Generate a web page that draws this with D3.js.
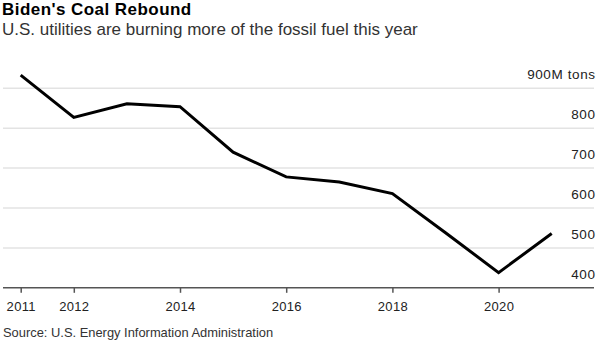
<!DOCTYPE html>
<html>
<head>
<meta charset="utf-8">
<script src="https://cdn.jsdelivr.net/npm/d3@7"></script>
<style>
  html, body { margin: 0; padding: 0; background: #fff; }
  svg { display: block; font-family: "Liberation Sans", Arial, sans-serif; }
</style>
</head>
<body>
<svg id="chart" width="600" height="342"></svg>
<script>
const years = [2011, 2012, 2013, 2014, 2015, 2016, 2017, 2018, 2019, 2020, 2021];
const coal = [933, 827, 861, 854, 740, 678, 665, 636, 538, 438, 536];
const xTicks = [2011, 2012, 2014, 2016, 2018, 2020];
const yTicks = [400, 500, 600, 700, 800, 900];
const yUnit = "M tons";
const title = "Biden's Coal Rebound";
const subtitle = "U.S. utilities are burning more of the fossil fuel this year";
const source = "Source: U.S. Energy Information Administration";

const svg = d3.select("#chart");
const left = 3, right = 594;
const x = d3.scaleLinear().domain([2011, 2021]).range([20.7, 551.7]);
const y = d3.scaleLinear().domain([400, 900]).range([287.8, 88.3]);

svg.append("text").attr("x", 2).attr("y", 15.3)
  .attr("font-size", 17).attr("font-weight", "bold").attr("fill", "#000")
  .attr("letter-spacing", 0.45)
  .text(title);
svg.append("text").attr("x", 2).attr("y", 34.5)
  .attr("font-size", 17).attr("fill", "#333")
  .text(subtitle);

// gridlines
const grid = svg.append("g");
grid.selectAll("line").data(yTicks.filter(d => d !== 400)).join("line")
  .attr("x1", left).attr("x2", right)
  .attr("y1", d => y(d)).attr("y2", d => y(d))
  .attr("stroke", "#e3e3e3").attr("stroke-width", 1.5);

// y labels
svg.append("g").selectAll("text").data(yTicks).join("text")
  .attr("x", 595.6).attr("y", d => y(d) - 9)
  .attr("text-anchor", "end").attr("font-size", 13.5).attr("fill", "#222")
  .attr("letter-spacing", 0.6)
  .text(d => d === 900 ? d + yUnit : d);

// x axis
const xAxis = d3.axisBottom(x).tickValues(xTicks).tickFormat(d3.format("d"))
  .tickSize(5).tickPadding(8.6);
const gx = svg.append("g").attr("transform", `translate(0,${y(400)})`).call(xAxis);
gx.select(".domain").remove();
gx.insert("line", ":first-child").attr("x1", left).attr("x2", right)
  .attr("stroke", "#555").attr("stroke-width", 1.6);
gx.selectAll(".tick line").attr("stroke", "#555").attr("stroke-width", 1.5);
gx.selectAll(".tick text").attr("font-size", 13).attr("fill", "#222")
  .attr("letter-spacing", 0.3)
  .attr("font-family", "Liberation Sans, Arial, sans-serif");

// line
const line = d3.line().x((d, i) => x(years[i])).y(d => y(d));
svg.append("path").datum(coal).attr("d", line)
  .attr("fill", "none").attr("stroke", "#000").attr("stroke-width", 3)
  .attr("stroke-linejoin", "miter");

svg.append("text").attr("x", 3).attr("y", 337)
  .attr("font-size", 12.9).attr("fill", "#333")
  .text(source);
</script>
</body>
</html>
